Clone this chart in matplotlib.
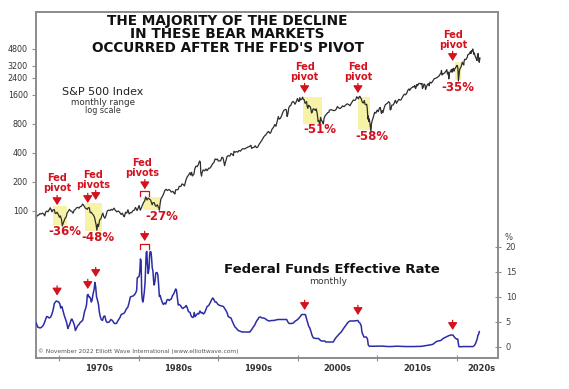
import numpy as np
import matplotlib
matplotlib.use("Agg")
import matplotlib.pyplot as plt
from matplotlib.patches import Rectangle

# S&P 500 monthly (approx., decimal years)
sp_dates = [
    1967.05, 1967.15, 1967.3, 1967.45, 1967.6, 1967.75, 1967.9, 1968.05, 1968.2, 1968.3,
    1968.45, 1968.6, 1968.75, 1968.9, 1969.0, 1969.1, 1969.25, 1969.4, 1969.5, 1969.6,
    1969.75, 1969.9, 1970.05, 1970.15, 1970.3, 1970.4, 1970.5, 1970.6, 1970.75, 1970.9,
    1971.0, 1971.15, 1971.3, 1971.45, 1971.6, 1971.75, 1971.9, 1972.05, 1972.2, 1972.35,
    1972.5, 1972.65, 1972.8, 1972.95, 1973.05, 1973.15, 1973.3, 1973.45, 1973.55, 1973.65,
    1973.8, 1973.9, 1974.05, 1974.15, 1974.3, 1974.45, 1974.55, 1974.65, 1974.75, 1974.85,
    1974.95, 1975.1, 1975.25, 1975.4, 1975.5, 1975.6, 1975.75, 1975.9, 1976.05, 1976.2,
    1976.4, 1976.55, 1976.7, 1976.9, 1977.05, 1977.25, 1977.45, 1977.6, 1977.8, 1977.95,
    1978.1, 1978.2, 1978.35, 1978.5, 1978.65, 1978.8, 1978.95, 1979.1, 1979.3, 1979.45,
    1979.6, 1979.8, 1979.95, 1980.05, 1980.2, 1980.3, 1980.45, 1980.6, 1980.75, 1980.88,
    1980.95, 1981.05, 1981.2, 1981.35, 1981.5, 1981.6, 1981.7, 1981.8, 1981.95, 1982.1,
    1982.2, 1982.35, 1982.45, 1982.55, 1982.6, 1982.7, 1982.8, 1982.95, 1983.1, 1983.3,
    1983.45, 1983.6, 1983.8, 1983.95, 1984.1, 1984.3, 1984.45, 1984.55, 1984.65, 1984.8,
    1984.95, 1985.1, 1985.3, 1985.45, 1985.6, 1985.75, 1985.95, 1986.1, 1986.25, 1986.45,
    1986.55, 1986.65, 1986.75, 1986.95, 1987.05, 1987.2, 1987.35, 1987.5, 1987.65, 1987.75,
    1987.8, 1987.9, 1987.95, 1988.1, 1988.3, 1988.45, 1988.6, 1988.8, 1988.95, 1989.1,
    1989.3, 1989.45, 1989.6, 1989.75, 1989.9, 1990.0, 1990.1, 1990.3, 1990.45, 1990.6,
    1990.7, 1990.8, 1990.9, 1990.95, 1991.1, 1991.25, 1991.45, 1991.6, 1991.75, 1991.9,
    1991.97, 1992.1, 1992.3, 1992.45, 1992.6, 1992.8, 1992.95, 1993.1, 1993.3, 1993.5,
    1993.7, 1993.9, 1994.1, 1994.2, 1994.35, 1994.5, 1994.65, 1994.8, 1994.95, 1995.1,
    1995.3, 1995.5, 1995.7, 1995.85, 1995.97, 1996.1, 1996.3, 1996.5, 1996.6, 1996.75,
    1996.95, 1997.1, 1997.25, 1997.4, 1997.55, 1997.65, 1997.8, 1997.95, 1998.1, 1998.25,
    1998.45, 1998.55, 1998.65, 1998.75, 1998.85, 1998.97, 1999.1, 1999.25, 1999.4, 1999.55,
    1999.65, 1999.8, 1999.95, 2000.05, 2000.15, 2000.25, 2000.35, 2000.5, 2000.6, 2000.7,
    2000.8, 2000.9, 2000.97, 2001.1, 2001.15, 2001.25, 2001.35, 2001.45, 2001.55, 2001.65,
    2001.72, 2001.8, 2001.9, 2001.97, 2002.1, 2002.2, 2002.3, 2002.4, 2002.45, 2002.55,
    2002.62, 2002.7, 2002.78, 2002.85, 2002.95, 2003.1, 2003.2, 2003.3, 2003.4, 2003.5,
    2003.6, 2003.75, 2003.9, 2003.97, 2004.2, 2004.4, 2004.55, 2004.65, 2004.8, 2004.97,
    2005.1, 2005.3, 2005.5, 2005.6, 2005.8, 2005.97, 2006.2, 2006.4, 2006.55, 2006.7,
    2006.97, 2007.15, 2007.25, 2007.4, 2007.5, 2007.6, 2007.7, 2007.8, 2007.9, 2007.97,
    2008.05, 2008.15, 2008.25, 2008.35, 2008.45, 2008.55, 2008.65, 2008.72, 2008.8, 2008.85,
    2008.9, 2008.97, 2009.05, 2009.12, 2009.18, 2009.25, 2009.35, 2009.45, 2009.55, 2009.65,
    2009.8, 2009.97, 2010.1, 2010.25, 2010.35, 2010.45, 2010.5, 2010.6, 2010.7, 2010.8,
    2010.97, 2011.1, 2011.3, 2011.4, 2011.55, 2011.6, 2011.7, 2011.8, 2011.97, 2012.1,
    2012.25, 2012.4, 2012.5, 2012.7, 2012.85, 2012.97, 2013.1, 2013.3, 2013.4, 2013.5,
    2013.6, 2013.7, 2013.85, 2013.97, 2014.05, 2014.2, 2014.4, 2014.5, 2014.6, 2014.7,
    2014.8, 2014.97, 2015.05, 2015.2, 2015.4, 2015.5, 2015.6, 2015.65, 2015.75, 2015.85,
    2015.97, 2016.05, 2016.15, 2016.3, 2016.45, 2016.5, 2016.6, 2016.8, 2016.9, 2016.97,
    2017.15, 2017.3, 2017.5, 2017.6, 2017.75, 2017.9, 2017.97, 2018.05, 2018.12, 2018.2,
    2018.3, 2018.45, 2018.6, 2018.72, 2018.8, 2018.9, 2018.97, 2019.05, 2019.2, 2019.3,
    2019.38, 2019.45, 2019.55, 2019.62, 2019.7, 2019.8, 2019.9, 2019.97, 2020.05, 2020.12,
    2020.18, 2020.25, 2020.32, 2020.42, 2020.5, 2020.58, 2020.67, 2020.75, 2020.85, 2020.9,
    2020.97, 2021.1, 2021.2, 2021.3, 2021.35, 2021.45, 2021.55, 2021.62, 2021.7, 2021.75,
    2021.85, 2021.9, 2021.98, 2022.05, 2022.1, 2022.18, 2022.25, 2022.35, 2022.45, 2022.5,
    2022.58, 2022.65, 2022.75, 2022.8, 2022.88,
]
sp_vals = [
    82, 87, 90, 91, 94, 93, 95, 93, 89, 97,
    100, 98, 103, 108, 103, 98, 103, 103, 95, 94,
    97, 92, 86, 89, 82, 70, 74, 78, 84, 87,
    95, 99, 104, 100, 99, 95, 102, 104, 108, 109,
    107, 111, 112, 118, 116, 112, 107, 105, 104, 108,
    108, 96, 97, 94, 91, 86, 79, 72, 63, 73,
    69, 81, 83, 91, 95, 88, 84, 90, 100, 102,
    101, 104, 102, 107, 102, 98, 100, 97, 92, 95,
    89, 87, 97, 95, 103, 93, 96, 96, 101, 102,
    109, 101, 108, 114, 102, 106, 114, 122, 127, 140,
    135, 130, 136, 133, 130, 122, 116, 122, 122, 113,
    112, 116, 110, 107, 102, 120, 134, 140, 148, 164,
    168, 163, 167, 164, 157, 160, 153, 150, 166, 166,
    167, 180, 180, 191, 188, 182, 211, 226, 235, 250,
    236, 252, 231, 242, 274, 292, 288, 304, 330, 322,
    252, 230, 247, 267, 261, 273, 262, 278, 278, 289,
    310, 318, 346, 341, 346, 330, 331, 331, 361, 356,
    322, 295, 322, 330, 367, 375, 371, 395, 388, 375,
    417, 407, 414, 408, 424, 418, 436, 443, 440, 450,
    460, 466, 481, 445, 456, 458, 475, 454, 459, 487,
    514, 545, 584, 605, 615, 640, 670, 639, 651, 705,
    740, 790, 757, 848, 954, 899, 914, 970, 1049, 1111,
    1133, 1120, 957, 1017, 1163, 1229, 1238, 1335, 1372, 1328,
    1282, 1362, 1469, 1394, 1366, 1498, 1420, 1454, 1517, 1436,
    1429, 1315, 1320, 1366, 1240, 1160, 1250, 1224, 1211, 1134,
    1040, 1059, 1139, 1148, 1130, 1106, 1147, 1067, 1000, 850,
    870, 820, 776, 936, 880, 841, 800, 916, 964, 990,
    1008, 1050, 1058, 1112, 1126, 1107, 1101, 1104, 1130, 1212,
    1181, 1156, 1191, 1234, 1207, 1248, 1295, 1270, 1236, 1304,
    1418, 1406, 1421, 1530, 1503, 1455, 1527, 1549, 1481, 1468,
    1378, 1330, 1322, 1400, 1280, 1267, 1282, 1166, 900, 968,
    850, 903, 825, 735, 667, 798, 872, 919, 987, 1057,
    1036, 1115, 1073, 1169, 1187, 1089, 1030, 1101, 1049, 1141,
    1258, 1286, 1325, 1363, 1320, 1120, 1131, 1253, 1258, 1312,
    1408, 1310, 1362, 1441, 1412, 1426, 1498, 1598, 1631, 1606,
    1633, 1681, 1806, 1848, 1783, 1872, 1924, 1960, 1930, 2003,
    1862, 2059, 1995, 2105, 2107, 2063, 2104, 1867, 1920, 2079,
    2044, 1829, 1932, 2065, 2097, 1992, 2174, 2126, 2199, 2239,
    2364, 2384, 2423, 2470, 2519, 2648, 2674, 2873, 2581, 2641,
    2648, 2718, 2816, 2930, 2640, 2760, 2351, 2704, 2834, 2945,
    2752, 2941, 3025, 2822, 2977, 3037, 3141, 3231, 3225, 2954,
    2237, 2585, 2912, 3044, 3100, 3271, 3500, 3363, 3270, 3622,
    3756, 3714, 3811, 3973, 4181, 4204, 4298, 4395, 4523, 4307,
    4605, 4567, 4796, 4515, 4226, 4374, 4131, 3900, 3785, 3637,
    4130, 4305, 3585, 3492, 3872,
]

# Federal funds effective rate, % (approx.)
ff_dates = [
    1967.05, 1967.2, 1967.3, 1967.45, 1967.6, 1967.75, 1967.95, 1968.1, 1968.3, 1968.45,
    1968.6, 1968.75, 1968.95, 1969.1, 1969.25, 1969.4, 1969.55, 1969.65, 1969.8, 1969.95,
    1970.1, 1970.2, 1970.35, 1970.5, 1970.65, 1970.8, 1970.95, 1971.1, 1971.2, 1971.35,
    1971.5, 1971.6, 1971.75, 1971.9, 1972.05, 1972.2, 1972.35, 1972.5, 1972.65, 1972.8,
    1972.95, 1973.05, 1973.2, 1973.35, 1973.45, 1973.55, 1973.65, 1973.75, 1973.85, 1973.95,
    1974.05, 1974.15, 1974.25, 1974.4, 1974.5, 1974.6, 1974.7, 1974.8, 1974.95, 1975.05,
    1975.15, 1975.3, 1975.45, 1975.6, 1975.75, 1975.9, 1976.05, 1976.3, 1976.5, 1976.7,
    1976.95, 1977.2, 1977.45, 1977.65, 1977.8, 1977.95, 1978.2, 1978.45, 1978.65, 1978.8,
    1978.95, 1979.1, 1979.3, 1979.5, 1979.65, 1979.75, 1979.82, 1979.95, 1980.05, 1980.15,
    1980.22, 1980.3, 1980.38, 1980.45, 1980.52, 1980.6, 1980.7, 1980.8, 1980.88, 1980.95,
    1981.02, 1981.1, 1981.2, 1981.3, 1981.38, 1981.45, 1981.55, 1981.62, 1981.7, 1981.8,
    1981.87, 1981.95, 1982.05, 1982.15, 1982.3, 1982.4, 1982.5, 1982.6, 1982.7, 1982.8,
    1982.9, 1982.97, 1983.1, 1983.25, 1983.4, 1983.55, 1983.7, 1983.85, 1983.97, 1984.1,
    1984.25, 1984.4, 1984.55, 1984.65, 1984.75, 1984.85, 1984.97, 1985.1, 1985.25, 1985.4,
    1985.55, 1985.7, 1985.85, 1985.97, 1986.1, 1986.25, 1986.45, 1986.6, 1986.75, 1986.9,
    1986.97, 1987.1, 1987.25, 1987.4, 1987.55, 1987.7, 1987.85, 1987.97, 1988.15, 1988.3,
    1988.45, 1988.6, 1988.8, 1988.97, 1989.15, 1989.3, 1989.45, 1989.6, 1989.75, 1989.97,
    1990.2, 1990.45, 1990.65, 1990.8, 1990.97, 1991.1, 1991.25, 1991.45, 1991.6, 1991.75,
    1991.97, 1992.1, 1992.3, 1992.5, 1992.7, 1992.97, 1993.5, 1993.97, 1994.1, 1994.25,
    1994.4, 1994.55, 1994.7, 1994.85, 1994.97, 1995.1, 1995.3, 1995.5, 1995.7, 1995.97,
    1996.1, 1996.4, 1996.7, 1996.97, 1997.25, 1997.5, 1997.97, 1998.4, 1998.6, 1998.75,
    1998.9, 1999.2, 1999.45, 1999.6, 1999.8, 1999.97, 2000.1, 2000.25, 2000.4, 2000.5,
    2000.7, 2000.9, 2000.97, 2001.05, 2001.15, 2001.25, 2001.35, 2001.5, 2001.65, 2001.75,
    2001.85, 2001.97, 2002.3, 2002.6, 2002.85, 2003.0, 2003.4, 2003.5, 2004.3, 2004.45,
    2004.6, 2004.75, 2004.97, 2005.2, 2005.45, 2005.7, 2005.97, 2006.15, 2006.35, 2006.55,
    2006.97, 2007.55, 2007.65, 2007.8, 2007.97, 2008.05, 2008.15, 2008.3, 2008.6, 2008.75,
    2008.85, 2008.97, 2009.5, 2010.5, 2011.5, 2012.5, 2013.5, 2014.5, 2015.5, 2015.97,
    2016.5, 2016.97, 2017.25, 2017.5, 2017.97, 2018.25, 2018.5, 2018.97, 2019.3, 2019.5,
    2019.6, 2019.75, 2019.97, 2020.1, 2020.17, 2020.25, 2021.0, 2021.5, 2022.0, 2022.2,
    2022.35, 2022.45, 2022.55, 2022.62, 2022.72, 2022.8,
]
ff_vals = [
    4.94, 4.5, 4.0, 3.9, 3.8, 3.9, 4.2, 4.6, 5.5, 6.1,
    6.0, 5.8, 6.0, 6.6, 7.4, 8.7, 9.0, 9.2, 9.1, 9.0,
    8.6, 7.8, 8.1, 7.2, 6.3, 5.6, 4.9, 3.7, 4.1, 4.6,
    5.4, 5.6, 5.1, 4.5, 3.3, 3.8, 4.3, 4.5, 4.9, 5.1,
    5.3, 5.9, 7.1, 7.8, 8.5, 10.4, 10.5, 10.0, 10.0, 9.7,
    9.0, 9.4, 10.5, 11.5, 12.9, 12.0, 10.1, 9.5, 8.5, 7.1,
    6.2, 5.5, 5.3, 6.1, 6.2, 5.2, 4.9, 5.0, 5.5, 5.3,
    4.7, 4.7, 5.4, 5.9, 6.5, 6.6, 6.8, 7.6, 8.0, 8.9,
    10.0, 10.1, 10.2, 10.5, 10.9, 11.4, 13.8, 14.0, 14.1, 15.2,
    17.6, 17.2, 11.0, 9.5, 9.0, 9.6, 10.9, 12.8, 15.9, 18.9,
    19.1, 16.6, 14.7, 15.7, 18.5, 19.1, 19.0, 17.8, 15.9, 15.1,
    13.3, 12.4, 13.2, 14.8, 14.9, 14.5, 12.6, 10.1, 10.3, 9.7,
    9.2, 8.9, 8.5, 8.8, 8.6, 9.4, 9.5, 9.3, 9.5, 9.6,
    10.3, 10.6, 11.2, 11.6, 11.3, 9.9, 8.4, 8.5, 8.3, 7.9,
    7.7, 7.9, 8.0, 8.3, 7.9, 7.1, 6.9, 6.2, 5.9, 6.0,
    6.9, 6.1, 6.4, 6.7, 6.6, 7.2, 6.8, 6.9, 6.6, 6.9,
    7.5, 8.1, 8.3, 8.8, 9.4, 9.8, 9.5, 9.0, 9.0, 8.5,
    8.3, 8.2, 8.1, 7.7, 7.3, 6.9, 6.1, 5.9, 5.8, 5.2,
    4.4, 4.0, 3.7, 3.3, 3.2, 3.0, 3.0, 3.0, 3.3, 3.6,
    4.0, 4.3, 4.8, 5.3, 5.5, 5.9, 6.0, 5.8, 5.8, 5.6,
    5.4, 5.2, 5.3, 5.3, 5.4, 5.5, 5.5, 5.5, 5.5, 5.0,
    4.7, 4.7, 4.8, 5.1, 5.3, 5.5, 5.7, 6.0, 6.3, 6.5,
    6.5, 6.5, 6.4, 5.9, 5.3, 4.8, 4.2, 3.8, 3.1, 2.5,
    2.1, 1.8, 1.7, 1.7, 1.3, 1.2, 1.2, 1.0, 1.0, 1.0,
    1.4, 1.8, 2.2, 2.6, 3.0, 3.6, 4.2, 4.6, 5.0, 5.2,
    5.2, 5.3, 5.0, 4.8, 4.2, 3.0, 2.6, 2.0, 2.0, 1.6,
    0.4, 0.16, 0.15, 0.18, 0.08, 0.16, 0.09, 0.09, 0.13, 0.24,
    0.38, 0.54, 0.9, 1.15, 1.3, 1.7, 1.9, 2.27, 2.41, 2.38,
    2.13, 1.83, 1.55, 1.58, 0.65, 0.05, 0.09, 0.08, 0.08, 0.33,
    0.77, 1.21, 1.68, 2.33, 2.56, 3.08,
]

# bear markets after the pivot: start, end, S&P high, S&P low
bear_start = [1969.2, 1973.3, 1980.6, 2000.65, 2007.55, 2019.75]
bear_end = [1971.0, 1975.4, 1982.7, 2003.0, 2009.05, 2020.5]
bear_high = [113, 121, 140, 1525, 1525, 3520]
bear_low = [71.5, 62, 102, 800, 693, 2290]
bear_pct = ['-36%', '-48%', '-27%', '-51%', '-58%', '-35%']
pct_x = [1970.75, 1974.9, 1982.95, 2002.8, 2009.3, 2020.1]
pct_y = [60.6, 52.5, 86.6, 693, 586, 1890]

# Fed pivot arrows (date, tip on S&P scale, tip on rate scale)
pivot_dates = [1969.75, 1973.6, 1974.6, 1980.75, 2000.85, 2007.55, 2019.45]
pivot_sp_tip = [115, 121, 130, 182, 1672, 1672, 3600]
pivot_ff_tip = [10.3, 11.6, 14.0, 21.2, 7.4, 6.4, 3.4]
pivot_text = ['Fed\npivot', 'Fed\npivots', 'Fed\npivots', 'Fed\npivot', 'Fed\npivot', 'Fed\npivot']
text_x = [1969.75, 1974.3, 1980.45, 2000.85, 2007.55, 2019.5]
text_y = [195, 212, 276, 2800, 2800, 5900]
bracket_span = (1980.2, 1981.35)

sp_ticks = [100, 200, 400, 800, 1600, 2400, 3200, 4800]
ff_ticks = [0, 5, 10, 15, 20]
decades = [1970, 1980, 1990, 2000, 2010, 2020]
decade_labels = ['1970s', '1980s', '1990s', '2000s', '2010s', '2020s']
decade_label_pos = [1975, 1985, 1995, 2005, 2015, 2023.1]

RED = '#d3121e'
GREY = '#8c8c8c'


def red_arrow(a, x, y, length=7):
    a.annotate('', xy=(x, y), xytext=(0, length), textcoords='offset points',
               arrowprops=dict(arrowstyle='-|>,head_length=0.55,head_width=0.35',
                               color=RED, lw=0.9, shrinkA=0, shrinkB=0,
                               mutation_scale=8))


def main():
    plt.rcParams['font.family'] = 'DejaVu Sans'
    fig = plt.figure(figsize=(5.69, 3.89), dpi=100)
    ax = fig.add_axes([0.0633, 0.0797, 0.8119, 0.8895])
    ax2 = ax.twinx()

    ax.set_yscale('log')
    ax.set_xlim(1967.1, 2025.15)
    ax.set_ylim(2.98, 11620)
    ax2.set_ylim(-2.2, 67)

    for i in range(len(bear_start)):
        ax.add_patch(Rectangle((bear_start[i], bear_low[i]), bear_end[i] - bear_start[i],
                               bear_high[i] - bear_low[i], facecolor='#f6f3a6',
                               edgecolor='none', zorder=1))
        ax.text(pct_x[i], pct_y[i], bear_pct[i], color=RED, fontsize=8.5,
                fontweight='bold', ha='center', va='center', zorder=5)

    ax.plot(sp_dates, sp_vals, color='#2e2e2e', lw=0.9, zorder=3)
    ax2.plot(ff_dates, ff_vals, color='#2c2ca6', lw=1.1, zorder=3)

    for i in range(len(pivot_dates)):
        if i != 3:
            red_arrow(ax, pivot_dates[i], pivot_sp_tip[i])
        red_arrow(ax2, pivot_dates[i], pivot_ff_tip[i])
    for i in range(len(pivot_text)):
        ax.text(text_x[i], text_y[i], pivot_text[i], color=RED, fontsize=7,
                fontweight='bold', ha='center', va='center', linespacing=1.0)

    # brackets for the 1980-81 pivots
    b0, b1 = bracket_span
    ax.plot([b0, b0, b1, b1], [143, 161, 161, 143], color=RED, lw=0.9)
    red_arrow(ax, (b0 + b1) / 2, 168)
    ax2.plot([b0, b0, b1, b1], [19.6, 20.5, 20.5, 19.6], color=RED, lw=0.9)

    # axes styling
    for a in (ax, ax2):
        for s in a.spines.values():
            s.set_color(GREY)
            s.set_linewidth(1.2)

    ax.set_yticks(sp_ticks)
    ax.set_yticklabels([str(t) for t in sp_ticks])
    ax.yaxis.set_minor_locator(matplotlib.ticker.NullLocator())
    ax.tick_params(axis='y', direction='out', length=3, color=GREY, labelsize=5.8,
                   labelcolor='#333333', pad=3)

    ax.set_xticks(decades)
    ax.set_xticklabels([])
    ax.set_xticks(decade_label_pos, minor=True)
    ax.set_xticklabels(decade_labels, minor=True)
    ax.tick_params(axis='x', which='major', direction='inout', length=5, color=GREY)
    ax.tick_params(axis='x', which='minor', length=0, labelsize=6, pad=4,
                   labelcolor='#333333')
    for lab in ax.get_xticklabels(minor=True):
        lab.set_fontweight('bold')

    ax2.set_yticks(ff_ticks)
    ax2.tick_params(axis='y', direction='inout', length=5, color=GREY, labelsize=6,
                    labelcolor='#444444', pad=3)
    ax2.annotate('%', xy=(1, 20), xycoords=('axes fraction', 'data'), xytext=(5, 5),
                 textcoords='offset points', fontsize=6, color='#444444')

    ax.text(0.4145, 0.935, "THE MAJORITY OF THE DECLINE\nIN THESE BEAR MARKETS\nOCCURRED AFTER THE FED'S PIVOT",
            transform=ax.transAxes, ha='center', va='center', fontsize=9.8,
            fontweight='bold', linespacing=0.92, color='#111111')
    ax.text(0.145, 0.768, 'S&P 500 Index', transform=ax.transAxes, ha='center',
            va='center', fontsize=8, color='#222222')
    ax.text(0.145, 0.739, 'monthly range', transform=ax.transAxes, ha='center',
            va='center', fontsize=6.3, color='#333333')
    ax.text(0.145, 0.715, 'log scale', transform=ax.transAxes, ha='center',
            va='center', fontsize=5.8, color='#333333')
    ax.text(0.641, 0.257, 'Federal Funds Effective Rate', transform=ax.transAxes,
            ha='center', va='center', fontsize=9.5, fontweight='bold', color='#111111')
    ax.text(0.632, 0.2225, 'monthly', transform=ax.transAxes, ha='center',
            va='center', fontsize=6.6, color='#333333')
    ax.text(0.004, 0.02, '\u00a9 November 2022 Elliott Wave International (www.elliottwave.com)',
            transform=ax.transAxes, ha='left', va='center', fontsize=4.2, color='#555555')

    fig.savefig('out.png', dpi=100)


if __name__ == '__main__':
    main()
